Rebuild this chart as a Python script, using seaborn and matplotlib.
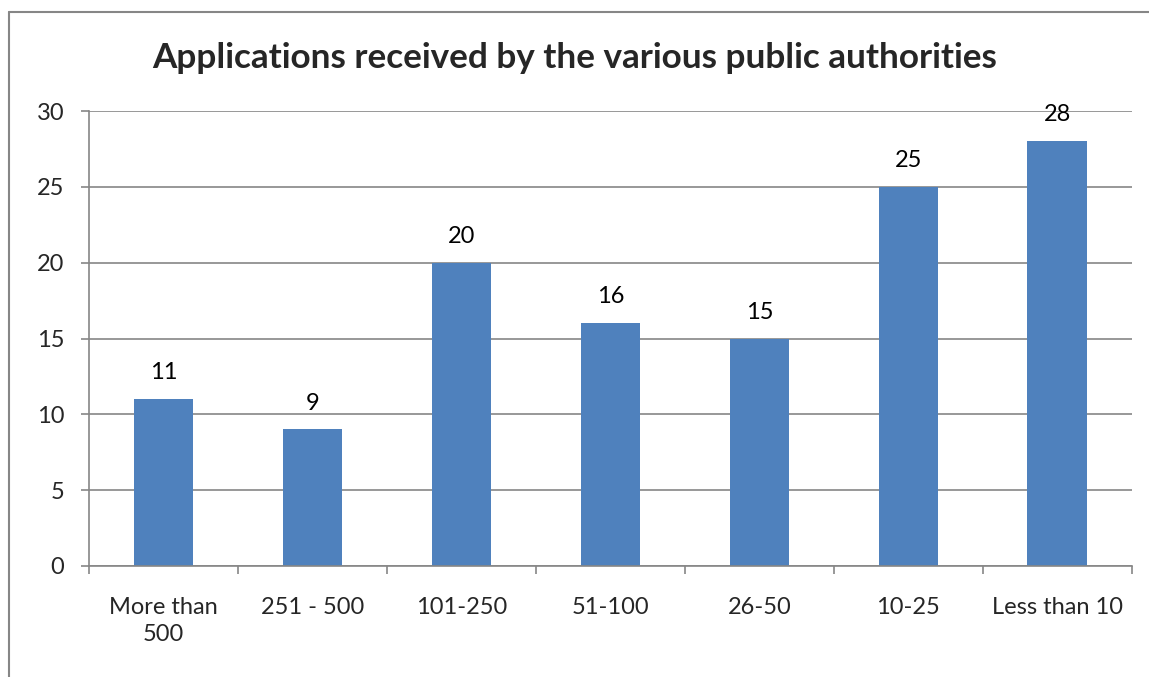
import matplotlib
matplotlib.use("Agg")
import matplotlib.pyplot as plt
import numpy as np
import pandas as pd
import seaborn as sns
from matplotlib.lines import Line2D

categories = ["More than\n500", "251 - 500", "101-250", "51-100", "26-50", "10-25", "Less than 10"]
values = [11, 9, 20, 16, 15, 25, 28]
y_ticks = [0, 5, 10, 15, 20, 25, 30]
title = "Applications received by the various public authorities"

BAR_COLOR = "#4F81BD"
LINE_GREY = "#868686"
FS = 17


def main() -> None:
    sns.set_theme(style="white")
    plt.rcParams["font.family"] = ["Lato", "DejaVu Sans"]

    df = pd.DataFrame({"group": categories, "count": values})

    fig = plt.figure(figsize=(11.49, 6.77), dpi=100)
    ax = fig.add_axes([0.0775, 0.164, 0.9075, 0.672])

    sns.barplot(data=df, x="group", y="count", order=categories, color=BAR_COLOR,
                saturation=1, width=0.4, linewidth=0, ax=ax)

    ax.set_ylim(0, 30)
    ax.set_xlim(-0.5, len(categories) - 0.5)
    ax.set_yticks(y_ticks)
    ax.yaxis.grid(True, color=LINE_GREY, linewidth=1.2)
    ax.set_axisbelow(True)
    ax.set_xlabel("")
    ax.set_ylabel("")

    for side in ["top", "right"]:
        ax.spines[side].set_visible(False)
    for side in ["left", "bottom"]:
        ax.spines[side].set_color(LINE_GREY)
        ax.spines[side].set_linewidth(1.2)

    # category boundaries as tick marks, labels centered on bars
    ax.set_xticks(np.arange(-0.5, len(categories), 1.0))
    ax.set_xticklabels([])
    ax.set_xticks(np.arange(len(categories)), minor=True)
    ax.set_xticklabels(categories, minor=True, fontsize=FS, linespacing=1.4)
    ax.tick_params(axis="x", which="major", length=6, width=1.2, color=LINE_GREY, direction="out", bottom=True)
    ax.tick_params(axis="x", which="minor", length=0, pad=22)
    ax.tick_params(axis="y", length=6, width=1.2, color=LINE_GREY, direction="out", left=True,
                   labelsize=FS, pad=12)

    for i, v in enumerate(values):
        ax.annotate(str(v), (i, v), xytext=(0, 19), textcoords="offset points",
                    ha="center", va="center", fontsize=FS, color="black")

    fig.text(0.5, 0.914, title, ha="center", va="center", fontsize=25.3, fontweight="bold")

    # outer chart frame (left and top edges visible)
    fig.add_artist(Line2D([0.0075, 0.0075], [0.0, 0.982], transform=fig.transFigure,
                          color=LINE_GREY, linewidth=1.5))
    fig.add_artist(Line2D([0.0075, 1.0], [0.982, 0.982], transform=fig.transFigure,
                          color=LINE_GREY, linewidth=1.5))

    fig.savefig("out.png", dpi=100, facecolor="white")
    plt.close(fig)


if __name__ == "__main__":
    main()
